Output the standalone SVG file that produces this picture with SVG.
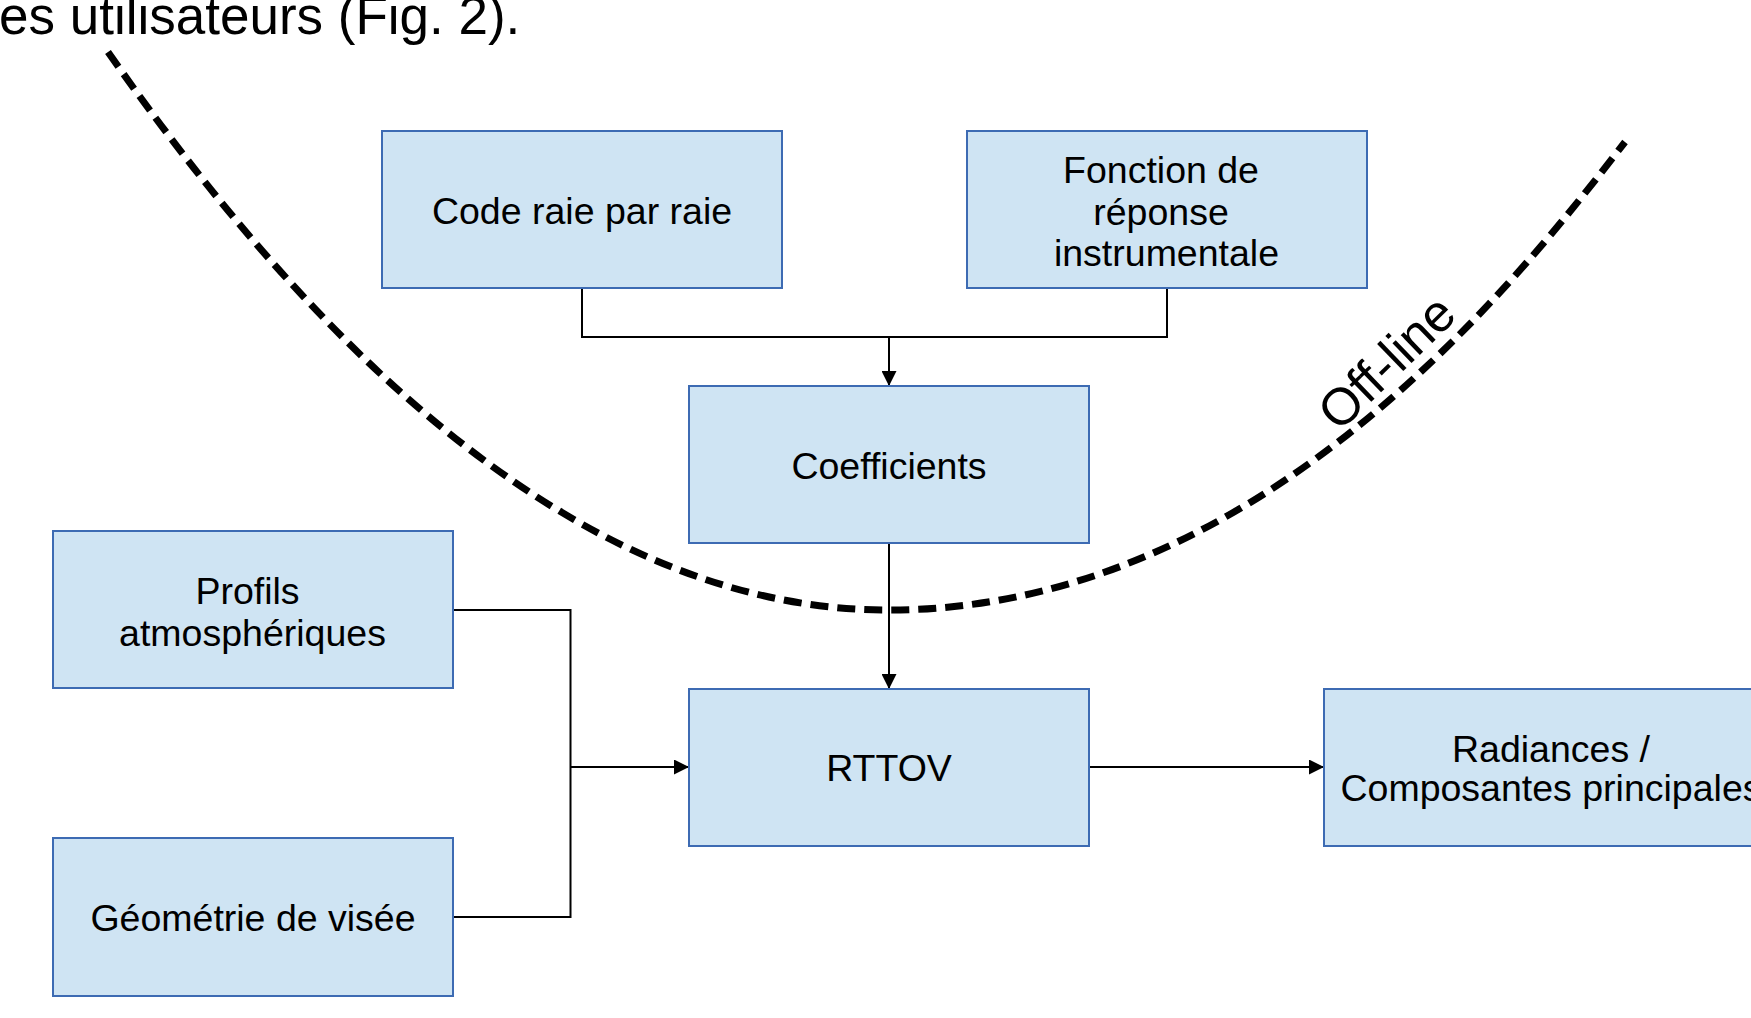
<svg xmlns="http://www.w3.org/2000/svg" width="1751" height="1018" viewBox="0 0 1751 1018">
<style>
.box{fill:#cfe4f3;stroke:#3d6bb3;stroke-width:2}
.t{font-family:"Liberation Sans",Arial,sans-serif;font-size:37.5px;fill:#000;text-anchor:middle}
.conn{fill:none;stroke:#000;stroke-width:2}
.curve{fill:none;stroke:#000;stroke-width:7;stroke-dasharray:18 9}
</style>
<defs>
<marker id="arr" markerUnits="userSpaceOnUse" markerWidth="15" markerHeight="15" refX="15" refY="7.5" orient="auto" viewBox="0 0 15 15">
<path d="M0,0 L15,7.5 L0,15 z" fill="#000"/>
</marker>
</defs>
<rect width="1751" height="1018" fill="#fff"/>
<text x="-1" y="34" style="font-family:'Liberation Sans',Arial,sans-serif;font-size:53px;fill:#000">es utilisateurs (Fig. 2).</text>

<g id="connectors">
<path class="conn" d="M582,289 V337 H1167 V289"/>
<path class="conn" d="M889,337 V386" marker-end="url(#arr)"/>
<path class="conn" d="M889,543 V689" marker-end="url(#arr)"/>
<path class="conn" d="M453,610 H570.5 V917 H453"/>
<path class="conn" d="M570.5,767 H689" marker-end="url(#arr)"/>
<path class="conn" d="M1089,767 H1324" marker-end="url(#arr)"/>
</g>

<g id="offline-boundary">
<path class="curve" d="M108,52 Q498,610 888,610 C1250,610 1503,300.6 1625,142"/>
<text x="1339" y="433" transform="rotate(-44 1339 433)" style="font-family:'Liberation Sans',Arial,sans-serif;font-size:52px;fill:#000">Off-line</text>
</g>

<g id="code">
<rect class="box" x="382" y="131" width="400" height="157"/>
<text class="t" x="582" y="224">Code raie par raie</text>
</g>
<g id="fonction">
<rect class="box" x="967" y="131" width="400" height="157"/>
<text class="t" x="1161" y="183">Fonction de</text>
<text class="t" x="1161" y="224.5">réponse</text>
<text class="t" x="1166.5" y="266">instrumentale</text>
</g>
<g id="coefficients">
<rect class="box" x="689" y="386" width="400" height="157"/>
<text class="t" x="889" y="479">Coefficients</text>
</g>
<g id="profils">
<rect class="box" x="53" y="531" width="400" height="157"/>
<text class="t" x="247.5" y="603.5">Profils</text>
<text class="t" x="252.5" y="646">atmosphériques</text>
</g>
<g id="geometrie">
<rect class="box" x="53" y="838" width="400" height="158"/>
<text class="t" x="253" y="931">Géométrie de visée</text>
</g>
<g id="rttov">
<rect class="box" x="689" y="689" width="400" height="157"/>
<text class="t" x="889" y="781">RTTOV</text>
</g>
<g id="radiances">
<rect class="box" x="1324" y="689" width="456" height="157"/>
<text class="t" x="1551" y="762">Radiances /</text>
<text class="t" x="1551" y="801">Composantes principales</text>
</g>
</svg>
